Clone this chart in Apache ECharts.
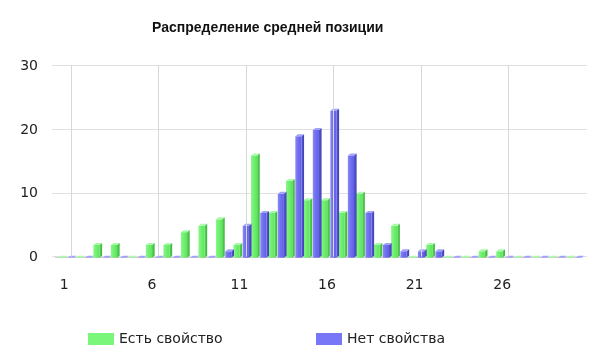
<!DOCTYPE html>
<html>
<head>
<meta charset="utf-8">
<script src="https://cdn.jsdelivr.net/npm/echarts@6/dist/echarts.min.js"></script>
<style>html,body{margin:0;padding:0;background:#fff}#c{width:599px;height:355px}</style>
</head>
<body>
<div id="c"></div>
<script>
const categories = ['1','2','3','4','5','6','7','8','9','10','11','12','13','14','15','16','17','18','19','20','21','22','23','24','25','26','27','28','29','30'];
const hasProp = [0,0,2,2,0,2,2,4,5,6,2,16,7,12,9,9,7,10,2,5,0,2,0,0,1,1,0,0,0,0];
const noProp  = [0,0,0,0,0,0,0,0,0,1,5,7,10,19,20,23,16,7,2,1,1,1,0,0,0,0,0,0,0,0];
const gridLineCats = ['1','6','11','16','21','26'];
const seriesNames = ['Есть свойство','Нет свойства'];

const chart = echarts.init(document.getElementById('c'));

function makeRender(off, cols) {
  return function (params, api) {
    const i = api.value(0), v = api.value(1);
    const base = api.coord([i, 0]);
    const top = api.coord([i, v]);
    const bw = api.size([1, 0])[0];
    const w = 0.35 * bw, dx = 0.15 * bw, dy = 2;
    const x0 = base[0] + off * bw;
    const yb = base[1], yt = top[1];
    return {
      type: 'group',
      children: [
        { type: 'polygon', shape: { points: [[x0 + w, yt], [x0 + w + dx, yt - dy], [x0 + w + dx, yb - dy], [x0 + w, yb]] },
          style: { fill: { type: 'linear', x: 0, y: 0, x2: 1, y2: 0, colorStops: [{ offset: 0, color: cols.s0 }, { offset: 1, color: cols.s1 }] } } },
        { type: 'rect', shape: { x: x0, y: yt, width: w, height: yb - yt },
          style: { fill: { type: 'linear', x: 0, y: 0, x2: 1, y2: 0, colorStops: [{ offset: 0, color: cols.f0 }, { offset: 0.4, color: cols.fm }, { offset: 1, color: cols.f1 }] } } },
        { type: 'polygon', shape: { points: [[x0, yt], [x0 + dx, yt - dy], [x0 + w + dx, yt - dy], [x0 + w, yt]] },
          style: { fill: cols.top } }
      ]
    };
  };
}

const greenCols = { f0: '#8ef58e', fm: '#72f272', f1: '#5fe35f', s0: '#55d555', s1: '#3fb43f', top: '#a8faa8' };
const blueCols  = { f0: '#8a8af7', fm: '#7272f2', f1: '#6060e2', s0: '#5656d6', s1: '#4242b4', top: '#a2a2fa' };

const lblFont = { fontFamily: 'DejaVu Sans', fontSize: 14, color: '#222' };

chart.setOption({
  animation: false,
  title: {
    text: 'Распределение средней позиции',
    left: 147, top: 16,
    textStyle: { fontFamily: 'Liberation Sans', fontWeight: 'bold', fontSize: 14, color: '#111' }
  },
  legend: [
    { data: [seriesNames[0]], left: 83, top: 327, itemWidth: 26, itemHeight: 12, itemGap: 6, icon: 'rect', textStyle: lblFont },
    { data: [seriesNames[1]], left: 311, top: 327, itemWidth: 26, itemHeight: 12, itemGap: 6, icon: 'rect', textStyle: lblFont }
  ],
  grid: [
    { left: 55.5, right: 18, top: 66, bottom: 97.3 },
    { left: 52, right: 12, top: 65, bottom: 98.3 },
    { left: 62, right: 11.5, top: 65, bottom: 98.3 }
  ],
  xAxis: [
    { type: 'category', gridIndex: 0, data: categories,
      axisLine: { lineStyle: { color: '#ccc' } },
      axisTick: { alignWithLabel: true, interval: 4, length: 5, lineStyle: { color: '#ccc' } },
      axisLabel: Object.assign({ interval: 4, margin: 21 }, lblFont),
      splitLine: { show: false } },
    { type: 'value', gridIndex: 1, show: false, min: 0, max: 1 },
    { type: 'category', gridIndex: 2, data: categories, show: false }
  ],
  yAxis: [
    { type: 'value', gridIndex: 0, min: 0, max: 30, interval: 10,
      axisLine: { show: false }, axisTick: { show: false },
      axisLabel: Object.assign({ margin: 17.5 }, lblFont),
      splitLine: { show: false } },
    { type: 'value', gridIndex: 1, min: 0, max: 30, interval: 10,
      axisLine: { show: false }, axisTick: { show: false }, axisLabel: { show: false },
      splitLine: { show: true, lineStyle: { color: '#e0e0e0' } } },
    { type: 'value', gridIndex: 2, min: 0, max: 30, show: false }
  ],
  series: [
    { type: 'line', xAxisIndex: 2, yAxisIndex: 2, data: [], silent: true,
      markLine: { silent: true, symbol: 'none', label: { show: false },
        lineStyle: { color: '#d8d8d8', type: 'solid', width: 1 },
        data: gridLineCats.map(c => ({ xAxis: c })) } },
    { name: seriesNames[0], type: 'custom', xAxisIndex: 0, yAxisIndex: 0,
      itemStyle: { color: '#7af77a' },
      renderItem: makeRender(-0.34, greenCols),
      data: hasProp.map((v, i) => [i, v]) },
    { name: seriesNames[1], type: 'custom', xAxisIndex: 0, yAxisIndex: 0,
      itemStyle: { color: '#7777f7' },
      renderItem: makeRender(0.19, blueCols),
      data: noProp.map((v, i) => [i, v]) }
  ]
});
</script>
</body>
</html>
